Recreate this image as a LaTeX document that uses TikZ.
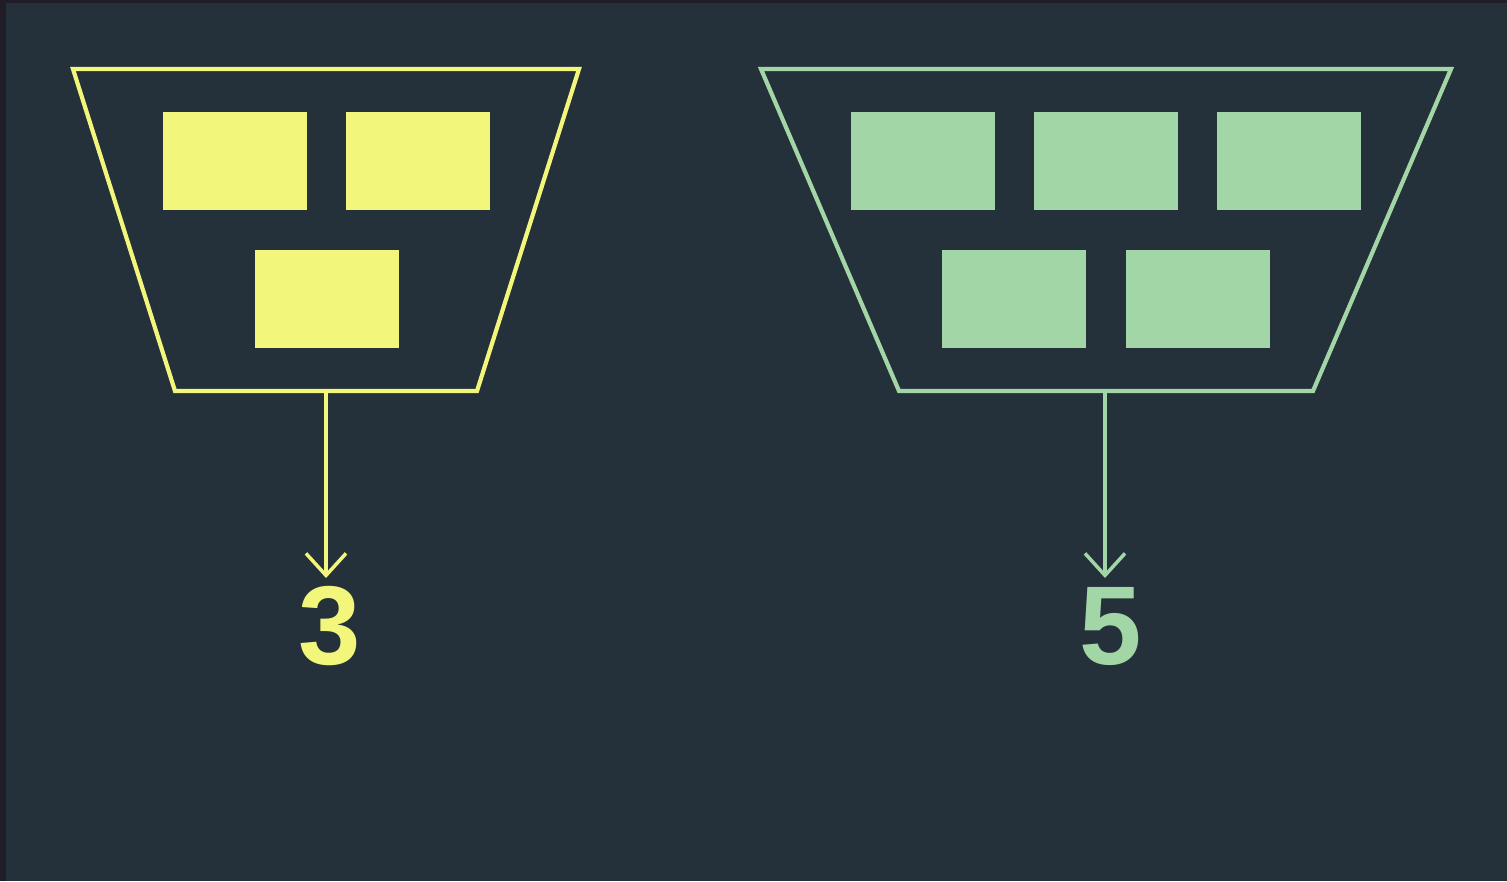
\documentclass[tikz,border=0pt]{standalone}
\usepackage{fontspec}
\setmainfont{Liberation Sans}
\usetikzlibrary{arrows.meta}
\definecolor{bg}{HTML}{25313A}
\definecolor{edge}{HTML}{201D28}
\definecolor{yel}{HTML}{F2F77C}
\definecolor{grn}{HTML}{A3D6A6}
\begin{document}
\begin{tikzpicture}[x=1pt,y=-1pt,
  frame/.style={line width=4.2pt, line join=miter},
  blk/.style={inner sep=0pt, minimum width=144pt, minimum height=98pt},
  link/.style={line width=3.5pt, -{Straight Barb[length=22pt,width=40pt,line width=3.5pt]}},
  num/.style={font=\fontsize{112}{112}\selectfont\bfseries, inner sep=0pt, anchor=base}]
\fill[edge] (0,0) rectangle (1507,881);
\fill[bg] (6,3) rectangle (1507,881);
\useasboundingbox (0,0) rectangle (1507,881);
% left group
\draw[frame, yel] (73,69) -- (579,69) -- (477,391) -- (175,391) -- cycle;
\node[blk, fill=yel] (y1) at (235,161) {};
\node[blk, fill=yel] (y2) at (418,161) {};
\node[blk, fill=yel] (y3) at (327,299) {};
\coordinate (ys) at (326,391);
\node[num, text=yel] (n3) at (330,664) {3};
\draw[link, yel] (ys) -- (326,578);
% right group
\draw[frame, grn] (761,69) -- (1451,69) -- (1313,391) -- (899,391) -- cycle;
\node[blk, fill=grn] (g1) at (923,161) {};
\node[blk, fill=grn] (g2) at (1106,161) {};
\node[blk, fill=grn] (g3) at (1289,161) {};
\node[blk, fill=grn] (g4) at (1014,299) {};
\node[blk, fill=grn] (g5) at (1198,299) {};
\coordinate (gs) at (1105,391);
\node[num, text=grn] (n5) at (1111,664) {5};
\draw[link, grn] (gs) -- (1105,578);
\end{tikzpicture}
\end{document}
